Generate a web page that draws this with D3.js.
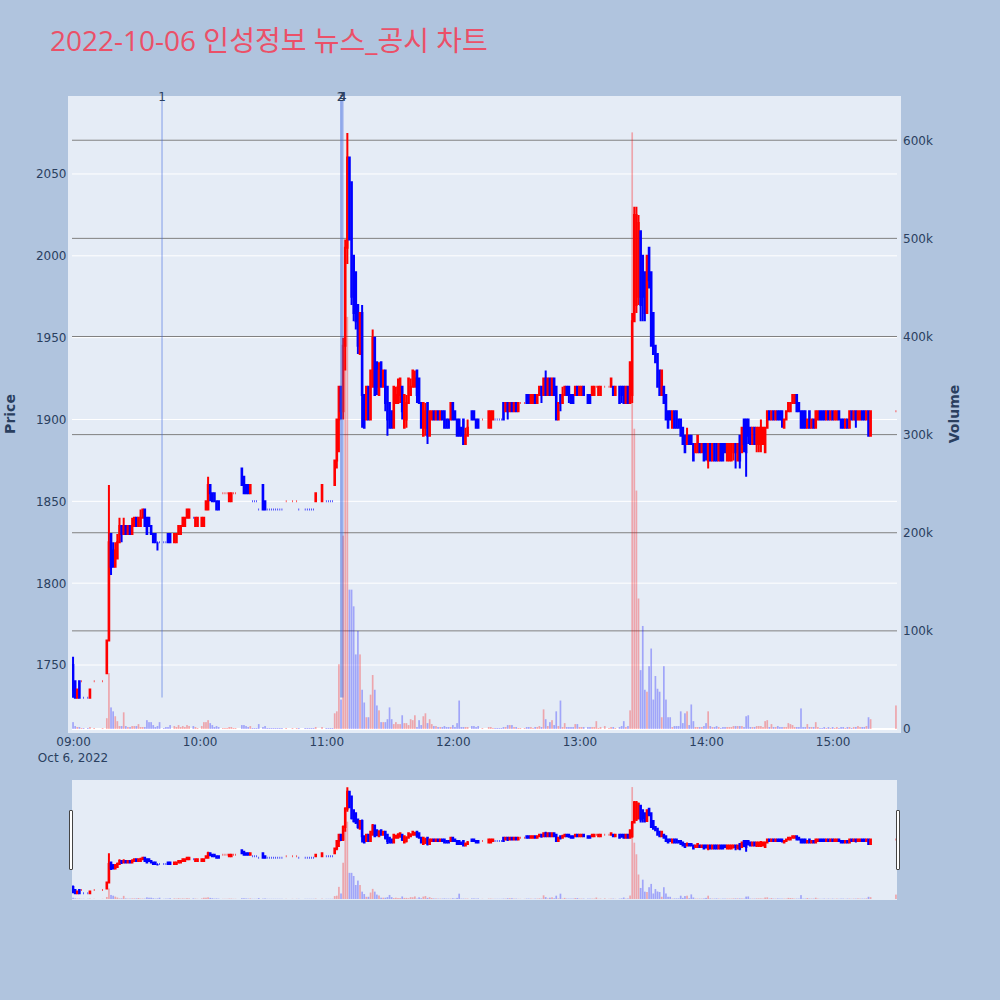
<!DOCTYPE html>
<html><head><meta charset="utf-8">
<script src="https://cdn.jsdelivr.net/npm/d3@7"></script>
<style>body{margin:0;background:#b0c4de;} svg{display:block;font-family:"DejaVu Sans","Noto Sans CJK KR",sans-serif;}</style>
</head><body>
<svg id="c" width="1000" height="1000"></svg>
<script>
const chartTitle = "2022-10-06 인성정보 뉴스_공시 차트";
// minutes after 09:00 on 2022-10-06
const minutes = [
0,1,2,3,4,5,7,8,10,14,
16,17,18,19,20,21,22,23,24,25,
26,27,28,29,30,31,32,33,34,35,
36,37,38,39,40,41,43,44,45,46,
48,49,50,51,52,53,54,55,57,58,
59,61,62,63,64,65,66,67,68,69,
71,72,73,74,75,76,77,80,81,82,
83,84,85,86,87,88,90,91,92,93,
94,95,96,97,98,99,101,104,106,107,
110,111,112,113,114,115,118,120,121,122,
123,124,125,126,127,128,129,130,131,132,
133,134,135,136,137,138,139,140,141,142,
143,144,145,146,147,148,149,150,151,152,
153,154,155,156,157,158,159,160,161,162,
163,164,165,166,167,168,169,170,171,172,
173,174,175,176,177,178,179,180,181,182,
183,184,185,186,187,189,190,191,192,194,
197,198,199,200,201,202,203,204,205,206,
207,208,209,210,211,212,214,215,216,217,
218,219,220,221,222,223,224,225,226,227,
228,229,230,231,232,233,234,235,236,237,
238,239,240,241,242,244,245,246,247,248,
249,250,252,254,255,256,257,259,260,261,
262,263,264,265,266,267,268,269,270,271,
272,273,274,275,276,277,278,279,280,281,
282,283,284,285,286,287,288,289,290,291,
292,293,294,295,296,297,298,299,300,301,
302,303,304,305,306,307,308,309,310,311,
312,313,314,315,316,317,318,319,320,321,
322,323,324,325,326,327,328,329,330,331,
332,333,334,335,336,337,338,339,340,341,
342,343,344,345,346,347,348,349,350,351,
352,353,354,355,356,357,358,359,360,361,
362,363,364,365,366,367,368,369,370,371,
372,373,374,375,376,377,378,390];
const open = [
1750,1740,1730,1740,1740,1730,1730,1730,1740,1740,
1745,1765,1830,1820,1810,1815,1825,1835,1830,1835,
1830,1835,1830,1835,1840,1835,1835,1840,1845,1840,
1840,1835,1830,1830,1825,1825,1825,1825,1830,1830,
1825,1825,1830,1830,1835,1835,1840,1840,1840,1835,
1835,1835,1835,1845,1845,1860,1855,1855,1850,1850,
1855,1855,1855,1850,1850,1855,1855,1870,1865,1860,
1860,1855,1850,1850,1850,1845,1860,1850,1845,1845,
1845,1845,1845,1845,1845,1845,1850,1850,1850,1845,
1845,1845,1845,1845,1845,1850,1850,1850,1850,1850,
1850,1860,1875,1900,1920,1905,1945,2005,2060,2045,
2000,1990,1970,1940,1965,1915,1900,1920,1900,1920,
1950,1935,1915,1935,1920,1930,1920,1910,1905,1895,
1910,1910,1915,1920,1895,1900,1910,1915,1920,1920,
1930,1925,1910,1890,1895,1910,1890,1900,1905,1900,
1905,1900,1905,1905,1900,1900,1900,1910,1905,1900,
1900,1895,1900,1885,1890,1905,1905,1900,1900,1900,
1895,1895,1900,1900,1900,1900,1900,1910,1905,1910,
1905,1910,1905,1910,1905,1910,1910,1915,1915,1910,
1910,1915,1910,1915,1920,1915,1925,1915,1925,1915,
1925,1920,1900,1915,1910,1915,1920,1920,1915,1915,
1915,1920,1915,1915,1920,1915,1915,1915,1915,1920,
1915,1915,1920,1920,1920,1920,1915,1920,1920,1920,
1910,1920,1910,1915,1960,1970,1975,2015,2000,1990,
1965,2005,1990,1965,1945,1940,1930,1915,1920,1915,
1905,1905,1895,1905,1905,1900,1900,1895,1890,1885,
1890,1890,1885,1880,1880,1885,1880,1885,1885,1875,
1885,1875,1885,1885,1875,1885,1885,1885,1875,1875,
1875,1880,1885,1875,1890,1880,1900,1900,1900,1895,
1885,1895,1885,1885,1885,1885,1880,1895,1905,1900,
1905,1900,1905,1905,1905,1895,1900,1905,1905,1910,
1910,1915,1910,1905,1905,1905,1895,1905,1895,1900,
1895,1900,1905,1905,1905,1900,1905,1900,1905,1900,
1900,1905,1900,1900,1895,1900,1895,1905,1900,1905,
1900,1900,1905,1905,1900,1905,1890,1905];
const high = [
1755,1740,1735,1740,1740,1730,1730,1735,1740,1740,
1765,1860,1830,1825,1825,1830,1840,1835,1840,1835,
1835,1835,1840,1840,1840,1840,1845,1845,1845,1840,
1840,1835,1830,1830,1825,1825,1825,1825,1830,1830,
1830,1830,1835,1835,1840,1840,1845,1845,1840,1840,
1840,1840,1840,1850,1865,1860,1855,1855,1850,1850,
1855,1855,1855,1855,1855,1855,1855,1870,1865,1860,
1860,1860,1850,1850,1850,1845,1860,1850,1845,1845,
1845,1845,1845,1845,1845,1845,1850,1850,1850,1845,
1845,1845,1845,1845,1845,1855,1860,1850,1850,1850,
1850,1875,1900,1920,1920,1950,2010,2075,2060,2045,
2000,1990,1970,1965,1970,1915,1920,1920,1930,1955,
1950,1935,1935,1935,1930,1930,1920,1910,1905,1920,
1920,1925,1925,1920,1915,1915,1925,1925,1930,1930,
1930,1925,1910,1910,1910,1910,1905,1905,1905,1905,
1905,1905,1905,1905,1900,1900,1910,1910,1905,1900,
1900,1895,1900,1895,1900,1905,1905,1900,1900,1900,
1905,1905,1905,1900,1900,1900,1900,1910,1910,1910,
1910,1910,1910,1910,1910,1910,1910,1915,1915,1915,
1915,1915,1915,1920,1920,1925,1930,1925,1925,1925,
1925,1920,1910,1915,1920,1920,1920,1920,1915,1915,
1920,1920,1920,1920,1920,1915,1915,1920,1920,1920,
1920,1920,1920,1920,1925,1920,1920,1920,1920,1920,
1920,1920,1935,1965,2030,2030,2025,2015,2000,1990,
2000,2005,1990,1965,1945,1940,1930,1930,1920,1915,
1905,1905,1905,1905,1905,1900,1900,1895,1890,1895,
1890,1890,1885,1885,1890,1885,1885,1885,1885,1885,
1885,1885,1885,1885,1885,1885,1885,1885,1885,1885,
1885,1885,1885,1885,1890,1895,1900,1900,1900,1895,
1895,1895,1895,1895,1900,1895,1895,1905,1905,1905,
1905,1905,1905,1905,1905,1900,1905,1910,1910,1915,
1915,1915,1910,1905,1905,1905,1900,1905,1900,1900,
1905,1905,1905,1905,1905,1905,1905,1905,1905,1905,
1905,1905,1900,1900,1900,1900,1905,1905,1905,1905,
1905,1905,1905,1905,1905,1905,1905,1905];
const low = [
1730,1730,1730,1730,1740,1730,1730,1730,1740,1740,
1745,1765,1805,1810,1810,1815,1825,1825,1830,1830,
1830,1830,1830,1835,1835,1835,1835,1840,1835,1830,
1835,1830,1825,1825,1820,1825,1825,1825,1825,1825,
1825,1825,1830,1830,1835,1835,1840,1840,1840,1835,
1835,1835,1835,1845,1845,1850,1850,1850,1845,1845,
1855,1855,1855,1850,1850,1855,1855,1860,1855,1855,
1855,1855,1850,1850,1850,1845,1845,1845,1845,1845,
1845,1845,1845,1845,1845,1845,1850,1850,1850,1845,
1845,1845,1845,1845,1845,1850,1850,1850,1850,1850,
1850,1860,1870,1880,1900,1900,1930,1995,2010,1970,
1960,1955,1940,1940,1895,1895,1900,1900,1900,1920,
1915,1915,1915,1920,1920,1905,1890,1895,1895,1895,
1910,1910,1910,1900,1895,1895,1910,1915,1920,1920,
1910,1910,1895,1890,1890,1885,1890,1900,1900,1900,
1900,1900,1900,1895,1895,1895,1900,1900,1900,1890,
1890,1890,1885,1885,1890,1900,1900,1895,1895,1900,
1895,1895,1900,1900,1900,1900,1900,1900,1905,1900,
1905,1905,1905,1905,1905,1910,1910,1910,1910,1910,
1910,1910,1910,1915,1910,1915,1915,1915,1915,1915,
1915,1900,1900,1905,1910,1915,1915,1910,1910,1910,
1915,1915,1915,1915,1915,1910,1910,1915,1915,1920,
1915,1915,1920,1920,1920,1915,1915,1910,1910,1910,
1910,1910,1910,1910,1960,1965,1970,1960,1960,1960,
1965,1980,1945,1940,1935,1920,1915,1915,1910,1900,
1895,1900,1895,1895,1895,1895,1890,1885,1880,1885,
1885,1885,1875,1880,1880,1880,1880,1875,1875,1870,
1875,1875,1875,1875,1875,1875,1875,1880,1875,1875,
1875,1875,1870,1875,1870,1880,1880,1865,1885,1885,
1885,1885,1880,1880,1880,1885,1880,1895,1900,1900,
1900,1900,1900,1900,1895,1895,1900,1905,1905,1910,
1910,1905,1905,1895,1895,1895,1895,1895,1895,1895,
1895,1900,1900,1900,1900,1900,1900,1900,1900,1900,
1900,1900,1895,1895,1895,1895,1895,1900,1900,1895,
1900,1900,1900,1900,1900,1890,1890,1905];
const close = [
1735,1730,1735,1730,1740,1730,1730,1735,1740,1740,
1765,1825,1810,1810,1820,1825,1835,1830,1835,1830,
1835,1830,1835,1840,1835,1840,1840,1845,1835,1830,
1835,1830,1825,1825,1825,1825,1825,1825,1825,1825,
1830,1830,1835,1835,1840,1840,1845,1845,1840,1840,
1840,1840,1840,1850,1860,1855,1850,1850,1845,1845,
1855,1855,1855,1855,1855,1855,1855,1860,1855,1855,
1855,1860,1850,1850,1850,1845,1845,1845,1845,1845,
1845,1845,1845,1845,1845,1845,1850,1850,1850,1845,
1845,1845,1845,1845,1845,1855,1860,1850,1850,1850,
1850,1875,1900,1920,1905,1945,2005,2060,2010,1975,
1965,1960,1945,1965,1915,1895,1920,1900,1930,1950,
1915,1920,1930,1920,1930,1910,1900,1895,1895,1920,
1915,1920,1925,1905,1915,1910,1925,1920,1930,1925,
1915,1910,1895,1910,1905,1890,1905,1905,1900,1905,
1900,1905,1900,1895,1895,1895,1910,1900,1900,1890,
1890,1890,1885,1890,1895,1900,1900,1895,1895,1900,
1905,1905,1905,1900,1900,1900,1900,1900,1910,1905,
1910,1905,1910,1905,1910,1910,1910,1910,1910,1915,
1915,1910,1915,1920,1915,1925,1915,1925,1915,1925,
1915,1900,1910,1910,1915,1920,1915,1915,1910,1910,
1920,1915,1920,1920,1915,1910,1910,1920,1920,1920,
1920,1920,1920,1920,1925,1915,1920,1910,1915,1910,
1920,1910,1935,1960,2025,2025,2020,1970,1975,1965,
2000,1985,1945,1940,1935,1920,1915,1930,1910,1900,
1895,1900,1905,1895,1895,1895,1890,1885,1880,1890,
1885,1885,1875,1885,1890,1880,1885,1875,1880,1885,
1875,1885,1875,1875,1885,1875,1875,1880,1885,1885,
1885,1885,1880,1885,1875,1895,1885,1880,1890,1885,
1895,1885,1895,1895,1895,1895,1895,1905,1900,1905,
1900,1905,1900,1900,1900,1900,1905,1910,1910,1915,
1915,1905,1905,1895,1895,1895,1900,1895,1900,1895,
1905,1905,1900,1900,1900,1905,1900,1905,1900,1905,
1905,1900,1895,1895,1900,1895,1905,1900,1905,1900,
1905,1905,1900,1900,1905,1890,1905,1905];
// volume in thousands of shares
const volumeK = [
7,3,2,2,1,1,1,2,1,1,
11,57,22,18,13,8,3,3,17,3,
2,2,3,3,3,5,2,2,2,9,
7,7,4,2,3,7,1,2,2,4,
3,2,4,2,3,2,4,3,3,2,
1,3,7,7,9,6,4,2,3,2,
1,1,1,2,2,1,1,4,4,3,
2,3,1,1,1,5,2,3,1,1,
1,1,1,1,1,1,1,1,1,1,
1,1,1,1,1,2,2,1,1,1,
1,16,18,66,30,197,420,420,142,142,
125,76,100,76,40,27,12,12,35,55,
40,24,19,7,7,7,10,22,10,5,
7,5,5,14,6,6,4,10,9,14,
2,9,4,13,16,6,10,5,3,3,
2,2,2,3,2,2,2,4,2,6,
29,2,2,2,2,3,3,2,3,1,
2,2,1,1,1,1,1,2,2,4,
4,4,2,2,1,1,1,2,2,2,
1,2,2,3,2,20,10,3,7,9,
4,18,3,29,2,6,2,2,2,2,
5,5,2,2,2,2,2,2,2,8,
1,2,3,1,2,2,1,2,3,8,
2,3,19,608,306,243,133,60,105,40,
38,64,82,30,54,41,38,12,64,30,
12,12,2,3,3,3,18,6,16,18,
4,25,8,2,2,2,2,3,6,18,
3,2,2,3,2,1,2,2,2,2,
2,3,3,3,3,3,2,13,14,2,
2,2,3,3,3,2,8,9,2,5,
2,2,3,2,2,2,2,6,5,4,
2,2,2,21,2,2,5,2,2,2,
7,2,1,1,2,1,2,1,2,1,
2,1,2,2,1,2,2,1,2,2,
3,2,2,2,3,12,10,24];
const priceTicks = [1750,1800,1850,1900,1950,2000,2050];
const volumeTicks = [0,100000,200000,300000,400000,500000,600000];
const hourTicks = [9,10,11,12,13,14,15];
const dateLabel = "Oct 6, 2022";
const newsTimes = ["09:42:10","11:06:50","11:07:20","11:07:53"];
const newsLabels = ["1","2","3","4"];

const day = (h,m,s)=>new Date(2022,9,6,h,m,s||0);
const T0 = day(9,0,0);
const rows = minutes.map((m,i)=>({t:new Date(T0.getTime()+m*60000),o:open[i],h:high[i],l:low[i],c:close[i],v:volumeK[i]*1000}));
let prevC = null, prevInc = false;
rows.forEach(d=>{
  let inc;
  if (d.c>d.o) inc=true; else if (d.c<d.o) inc=false;
  else if (prevC===null) inc=false; else if (d.c>prevC) inc=true; else if (d.c<prevC) inc=false; else inc=prevInc;
  d.inc=inc; prevC=d.c; prevInc=inc;
});
const RED="#ff0000", BLUE="#0000ff", TXT="#2a3f5f";
const TICKFONT = "'DejaVu Sans', Verdana, sans-serif";
const svg = d3.select("#c");
svg.append("rect").attr("width",1000).attr("height",1000).attr("fill","#b0c4de");

// title
svg.append("text").attr("x",50).attr("y",51).attr("font-size",28)
  .attr("font-family","'Open Sans','Noto Sans CJK KR',sans-serif").attr("fill","#eb5068").text(chartTitle);

const L=72,R=897,T=100,B=729;
const x = d3.scaleTime().domain([day(8,59,30),day(15,30,30)]).range([L,R]);
const yP = d3.scaleLinear().domain([1710.9,2095.2]).range([B,T]);
const yV = d3.scaleLinear().domain([0,641000]).range([B,T]);

svg.append("rect").attr("x",68).attr("y",96).attr("width",833).attr("height",637).attr("fill","#e5ecf6");
const defs = svg.append("defs");
defs.append("clipPath").attr("id","mainclip").append("rect").attr("x",L).attr("y",T).attr("width",R-L).attr("height",B-T);

// grids
const g = svg.append("g");
g.selectAll(".pg").data(priceTicks).join("line").attr("x1",L).attr("x2",R)
 .attr("y1",d=>yP(d)).attr("y2",d=>yP(d)).attr("stroke","#ffffff").attr("stroke-width",1);
g.selectAll(".vg").data(volumeTicks.filter(v=>v>0)).join("line").attr("x1",L).attr("x2",R)
 .attr("y1",d=>yV(d)).attr("y2",d=>yV(d)).attr("stroke","#808080").attr("stroke-width",1);
g.append("line").attr("x1",L).attr("x2",R).attr("y1",yV(0)).attr("y2",yV(0)).attr("stroke","#ffffff").attr("stroke-width",2);

const minPx = x(day(9,1,0))-x(day(9,0,0));
function drawVol(sel, xs, ys){
  const bw = minPx*0.8;
  sel.selectAll("rect.v").data(rows).join("rect").attr("class","v")
    .attr("x",d=>xs(d.t)-bw/2).attr("width",bw)
    .attr("y",d=>ys(d.v)).attr("height",d=>Math.max(0,ys(0)-ys(d.v)))
    .attr("fill",d=>d.inc?RED:BLUE).attr("fill-opacity",0.3);
}
function drawCandles(sel, xs, ys){
  const bw = minPx*0.3;
  sel.selectAll("path.k").data(rows).join("path").attr("class","k")
    .attr("d",d=>{
      const xc=xs(d.t), x0=xc-bw/2, x1=xc+bw/2;
      const yo=ys(d.o), yc=ys(d.c), top=Math.min(yo,yc), bot=Math.max(yo,yc);
      return `M${x0},${yo}H${x1}V${yc}H${x0}ZM${xc},${ys(d.h)}V${top}M${xc},${bot}V${ys(d.l)}`;
    })
    .attr("stroke",d=>d.inc?RED:BLUE).attr("stroke-width",2)
    .attr("fill",d=>d.inc?RED:BLUE).attr("fill-opacity",0.5);
}
const plot = svg.append("g").attr("clip-path","url(#mainclip)");
drawVol(plot.append("g"), x, yV);
drawCandles(plot.append("g"), x, yP);

// news lines
const parseHMS = s=>{const [h,m,sec]=s.split(":").map(Number);return day(h,m,sec);};
const news = newsTimes.map((s,i)=>({t:parseHMS(s),label:newsLabels[i]}));
svg.append("g").selectAll("line").data(news).join("line")
  .attr("x1",d=>x(d.t)).attr("x2",d=>x(d.t)).attr("y1",T).attr("y2",B-(B-T)*0.05)
  .attr("stroke","#4169e1").attr("stroke-opacity",0.5).attr("stroke-width",1.2);
svg.append("g").selectAll("text").data(news).join("text")
  .attr("x",d=>x(d.t)).attr("y",100.5).attr("text-anchor","middle").attr("font-size",12)
  .attr("font-family",TICKFONT).attr("fill",TXT).text(d=>d.label);

// axes
const axL = svg.append("g").attr("transform",`translate(${L-5.5},0)`)
  .call(d3.axisLeft(yP).tickValues(priceTicks).tickSize(0).tickPadding(0).tickFormat(d3.format("d")));
const axR = svg.append("g").attr("transform",`translate(${R+6},0)`)
  .call(d3.axisRight(yV).tickValues(volumeTicks).tickSize(0).tickPadding(0).tickFormat(d3.format("~s")));
const axB = svg.append("g").attr("transform",`translate(0,${B})`)
  .call(d3.axisBottom(x).tickValues(hourTicks.map(h=>day(h,0,0))).tickSize(0).tickPadding(0).tickFormat(d3.timeFormat("%H:%M")));
[axL,axR,axB].forEach(a=>{a.select(".domain").remove();
  a.selectAll("text").attr("font-size",12).attr("fill",TXT).attr("font-family",TICKFONT);});
axB.selectAll("text").attr("dy",null).attr("y",17);
svg.append("text").attr("x",x(day(9,0,0))).attr("y",762).attr("text-anchor","middle")
  .attr("font-size",12).attr("font-family",TICKFONT).attr("fill",TXT).text(dateLabel);
svg.append("text").attr("transform","translate(15,414) rotate(-90)").attr("text-anchor","middle")
  .attr("font-size",14).attr("font-weight","bold").attr("font-family",TICKFONT).attr("fill",TXT).text("Price");
svg.append("text").attr("transform","translate(959,414) rotate(-90)").attr("text-anchor","middle")
  .attr("font-size",14).attr("font-weight","bold").attr("font-family",TICKFONT).attr("fill",TXT).text("Volume");

// range slider
const sT=780, sB=900;
svg.append("rect").attr("x",L).attr("y",sT).attr("width",R-L).attr("height",sB-sT).attr("fill","#e5ecf6");
defs.append("clipPath").attr("id","sclip").append("rect").attr("x",L).attr("y",sT).attr("width",R-L).attr("height",sB-sT);
const yP2 = d3.scaleLinear().domain(yP.domain()).range([sB-1,sT+1]);
const yV2 = d3.scaleLinear().domain(yV.domain()).range([sB-1,sT+1]);
const sg = svg.append("g").attr("clip-path","url(#sclip)");
drawVol(sg.append("g"), x, yV2);
drawCandles(sg.append("g"), x, yP2);
[[69.5,810.5],[896.5,810.5]].forEach(([hx,hy])=>{
  svg.append("rect").attr("x",hx).attr("y",hy).attr("width",3).attr("height",59)
    .attr("fill","#ffffff").attr("stroke","#444").attr("stroke-width",1).attr("rx",0.5);
});
</script>
</body></html>
